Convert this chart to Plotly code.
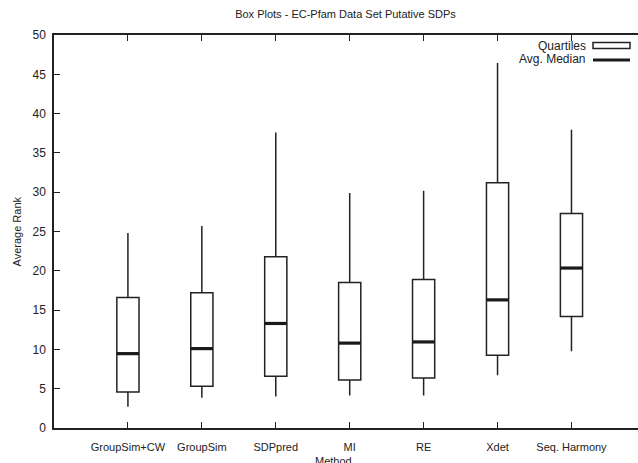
import plotly.graph_objects as go

methods = ["GroupSim+CW", "GroupSim", "SDPpred", "MI", "RE", "Xdet", "Seq. Harmony"]
whisker_low = [2.7, 3.85, 4.0, 4.15, 4.15, 6.7, 9.76]
q1 = [4.57, 5.3, 6.57, 6.1, 6.35, 9.25, 14.2]
median = [9.46, 10.1, 13.3, 10.8, 10.95, 16.3, 20.35]
q3 = [16.6, 17.2, 21.8, 18.5, 18.9, 31.2, 27.3]
whisker_high = [24.8, 25.7, 37.6, 29.9, 30.2, 46.45, 37.95]
yticks = [0, 5, 10, 15, 20, 25, 30, 35, 40, 45, 50]

BOXW = 0.3
LINE = "#222222"
xs = list(range(1, len(methods) + 1))

fig = go.Figure()
fig.add_trace(go.Box(
    x=xs, q1=q1, median=median, q3=q3,
    lowerfence=whisker_low, upperfence=whisker_high,
    width=BOXW, whiskerwidth=0,
    line=dict(color=LINE, width=1.5),
    fillcolor="white", boxpoints=False, showlegend=False, hoverinfo="skip",
))

mx, my = [], []
for x, m in zip(xs, median):
    mx += [x - BOXW / 2, x + BOXW / 2, None]
    my += [m, m, None]
fig.add_trace(go.Scatter(x=mx, y=my, mode="lines",
                         line=dict(color="#1a1a1a", width=3.2),
                         showlegend=False, hoverinfo="skip"))

W, H = 638, 463
L, R, T, B = 54, 0, 35, 35
pw, ph = W - L - R, H - T - B

font = dict(family="Liberation Sans, Arial, sans-serif", size=11, color="#222222")

fig.update_layout(
    width=W, height=H,
    margin=dict(l=L, r=R, t=T, b=B, pad=0, autoexpand=False),
    paper_bgcolor="white", plot_bgcolor="white",
    font=font,
    showlegend=False,
    title=dict(text="Box Plots - EC-Pfam Data Set Putative SDPs",
               x=345.5 / W, xref="container", xanchor="center",
               y=1 - 14.5 / H, yref="container", yanchor="middle",
               font=dict(size=11, color="#222222")),
    xaxis=dict(range=[0, 7.9], tickmode="array", tickvals=xs, ticktext=methods,
               ticks="inside", ticklen=6, tickwidth=1, tickcolor=LINE,
               showline=True, linecolor=LINE, linewidth=1.5, mirror="ticks",
               showgrid=False, zeroline=False, ticklabelstandoff=8,
               automargin=False, tickfont=dict(size=11)),
    yaxis=dict(range=[0, 50], tickmode="array", tickvals=yticks,
               ticks="inside", ticklen=6, tickwidth=1, tickcolor=LINE,
               showline=True, linecolor=LINE, linewidth=1.5, mirror=False,
               showgrid=False, zeroline=False, ticklabelstandoff=4,
               automargin=False, tickfont=dict(size=12)),
)

# axis titles as annotations
fig.add_annotation(text="Method", xref="paper", yref="paper",
                   x=(333 - L) / pw, y=-(461 - (T + ph)) / ph,
                   xanchor="center", yanchor="middle", showarrow=False,
                   font=dict(size=11))
fig.add_annotation(text="Average Rank", xref="paper", yref="paper",
                   x=-(L - 16) / pw, y=0.5, textangle=-90,
                   xanchor="center", yanchor="middle", showarrow=False,
                   font=dict(size=11))

# key (legend) in the top-right corner, gnuplot style
def px(xp):
    return (xp - L) / pw

def py(yp):
    return 1 - (yp - T) / ph

fig.add_annotation(text="Quartiles", xref="paper", yref="paper",
                   x=px(588), y=py(45.5), xanchor="right", yanchor="middle",
                   showarrow=False, font=dict(size=12))
fig.add_annotation(text="Avg. Median", xref="paper", yref="paper",
                   x=px(588), y=py(59.5), xanchor="right", yanchor="middle",
                   showarrow=False, font=dict(size=12))
fig.add_shape(type="rect", xref="paper", yref="paper",
              x0=px(593), x1=px(630), y0=py(42.5), y1=py(48.5),
              line=dict(color=LINE, width=1.5), fillcolor="white")
fig.add_shape(type="line", xref="paper", yref="paper",
              x0=px(593), x1=px(630), y0=py(60), y1=py(60),
              line=dict(color="#1a1a1a", width=3))

fig.write_html("out.html", config={"displayModeBar": False},
               post_script="document.body.style.margin='0';document.body.style.overflow='hidden';")
